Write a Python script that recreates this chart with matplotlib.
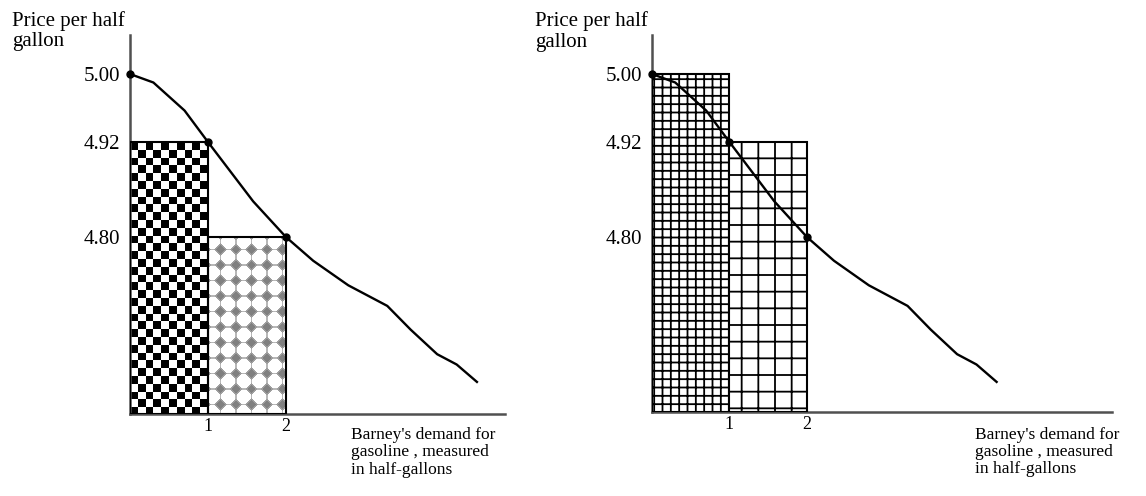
import matplotlib
matplotlib.use('Agg')
import matplotlib.pyplot as plt
import numpy as np

plt.rcParams['font.family'] = ['Liberation Serif', 'DejaVu Serif']
plt.rcParams['hatch.linewidth'] = 1.3

# demand curve (quantity in half-gallons, price)
curve_q = [0, 0.30, 0.70, 1.00, 1.58, 2.00, 2.35, 2.80, 3.30, 3.60, 3.94, 4.19, 4.45]
curve_p = [5.00, 4.990, 4.957, 4.92, 4.845, 4.80, 4.770, 4.739, 4.713, 4.683, 4.652, 4.639, 4.617]

# marked points
dot_q = [0, 1, 2]
dot_p = [5.00, 4.92, 4.80]

# bars: left edges and tops
bar_left = [0, 1]
tops_left = [4.92, 4.80]    # left panel
tops_right = [5.00, 4.92]   # right panel

price_ticks = [4.80, 4.92, 5.00]
price_labels = ['4.80', '4.92', '5.00']
qty_ticks = [1, 2]
qty_labels = ['1', '2']

ylabel = 'Price per half\ngallon'
xlabel = "Barney's demand for\ngasoline , measured\nin half-gallons"

# the drawing is not to a linear price scale: piecewise mapping
KP = [4.0, 4.80, 4.92, 5.00, 6.0]
KU = [-633.6, 0.0, 95.0, 163.0, 1013.0]
fwd = lambda p: np.interp(p, KP, KU)
inv = lambda u: np.interp(u, KU, KP)

W, H = 1146, 496
fig = plt.figure(figsize=(W / 100, H / 100), dpi=100)


def make_axes(x0, x1, ytop, ybot, qmax, pmin, pmax):
    ax = fig.add_axes([x0 / W, 1 - ybot / H, (x1 - x0) / W, (ybot - ytop) / H])
    ax.set_yscale('function', functions=(fwd, inv))
    ax.set_xlim(0, qmax)
    ax.set_ylim(pmin, pmax)
    ax.set_autoscale_on(False)
    for s in ['top', 'right']:
        ax.spines[s].set_visible(False)
    for s in ['left', 'bottom']:
        ax.spines[s].set_color('#505050')
        ax.spines[s].set_linewidth(1.8)
    ax.set_yticks(price_ticks, price_labels)
    ax.set_xticks(qty_ticks, qty_labels)
    ax.yaxis.set_minor_locator(matplotlib.ticker.NullLocator())
    ax.tick_params(length=0)
    ax.tick_params(axis='y', pad=7, labelsize=15)
    ax.tick_params(axis='x', pad=3, labelsize=13)
    return ax


def pattern_image(ax, x0, x1, p0, p1, func):
    # place a pixel pattern exactly over the bar, in axes coordinates
    to_ax = ax.transData + ax.transAxes.inverted()
    (ax0, ay0), (ax1, ay1) = to_ax.transform([(x0, p0), (x1, p1)])
    bb = ax.get_position()
    wpx = int(round((ax1 - ax0) * bb.width * W))
    hpx = int(round((ay1 - ay0) * bb.height * H))
    rr, cc = np.mgrid[0:hpx, 0:wpx] + 0.5
    img = func(rr, cc)
    ax.imshow(img, extent=(ax0, ax1, ay0, ay1), transform=ax.transAxes,
              aspect='auto', interpolation='nearest', cmap='gray',
              vmin=0, vmax=1, zorder=2)


def checker(rr, cc, cell=7.8):
    return ((rr // cell + cc // cell) % 2).astype(float)


def diamonds(rr, cc, per=15.5, off=12.5):
    u = ((cc - off + per / 2) % per) - per / 2
    v = ((rr - off + per / 2) % per) - per / 2
    img = np.ones_like(u)
    img[(np.abs(u) < 0.9) | (np.abs(v) < 0.9)] = 0.72
    img[np.abs(u) + np.abs(v) < 6.5] = 0.62
    img[np.abs(u) + np.abs(v) < 4.5] = 0.5
    return img


def draw_curve(ax):
    ax.plot(curve_q, curve_p, color='black', lw=1.7, zorder=4)
    ax.plot(dot_q, dot_p, 'o', color='black', ms=5, zorder=5, clip_on=False)


# ---- left panel
ax1 = make_axes(130, 505, 35, 414, 4.81, 4.5765, 5.0459)
ymin1 = ax1.get_ylim()[0]
ax1.bar(bar_left, [t - ymin1 for t in tops_left], width=1, bottom=ymin1,
        align='edge', facecolor='none', edgecolor='black', lw=1.5, zorder=3)
pattern_image(ax1, 0, 1, ymin1, tops_left[0], checker)
pattern_image(ax1, 1, 2, ymin1, tops_left[1], diamonds)
draw_curve(ax1)
ax1.text(-0.315, 1.063, ylabel, transform=ax1.transAxes, ha='left', va='top',
         fontsize=15, linespacing=1.1)
ax1.text(0.589, -0.035, xlabel, transform=ax1.transAxes, ha='left', va='top',
         fontsize=12.5, linespacing=1.1)

# ---- right panel
ax2 = make_axes(652, 1112, 35, 412, 5.94, 4.579, 5.0459)
ymin2 = ax2.get_ylim()[0]
ax2.bar(bar_left[0], tops_right[0] - ymin2, width=1, bottom=ymin2, align='edge',
        facecolor='white', edgecolor='black', lw=1.5, hatch='++', zorder=3)
ax2.bar(bar_left[1], tops_right[1] - ymin2, width=1, bottom=ymin2, align='edge',
        facecolor='white', edgecolor='black', lw=1.5, hatch='+', zorder=3)
draw_curve(ax2)
ax2.text(-0.254, 1.063, ylabel, transform=ax2.transAxes, ha='left', va='top',
         fontsize=15, linespacing=1.1)
ax2.text(0.702, -0.04, xlabel, transform=ax2.transAxes, ha='left', va='top',
         fontsize=12.5, linespacing=1.1)

fig.savefig('out.png', dpi=100)
